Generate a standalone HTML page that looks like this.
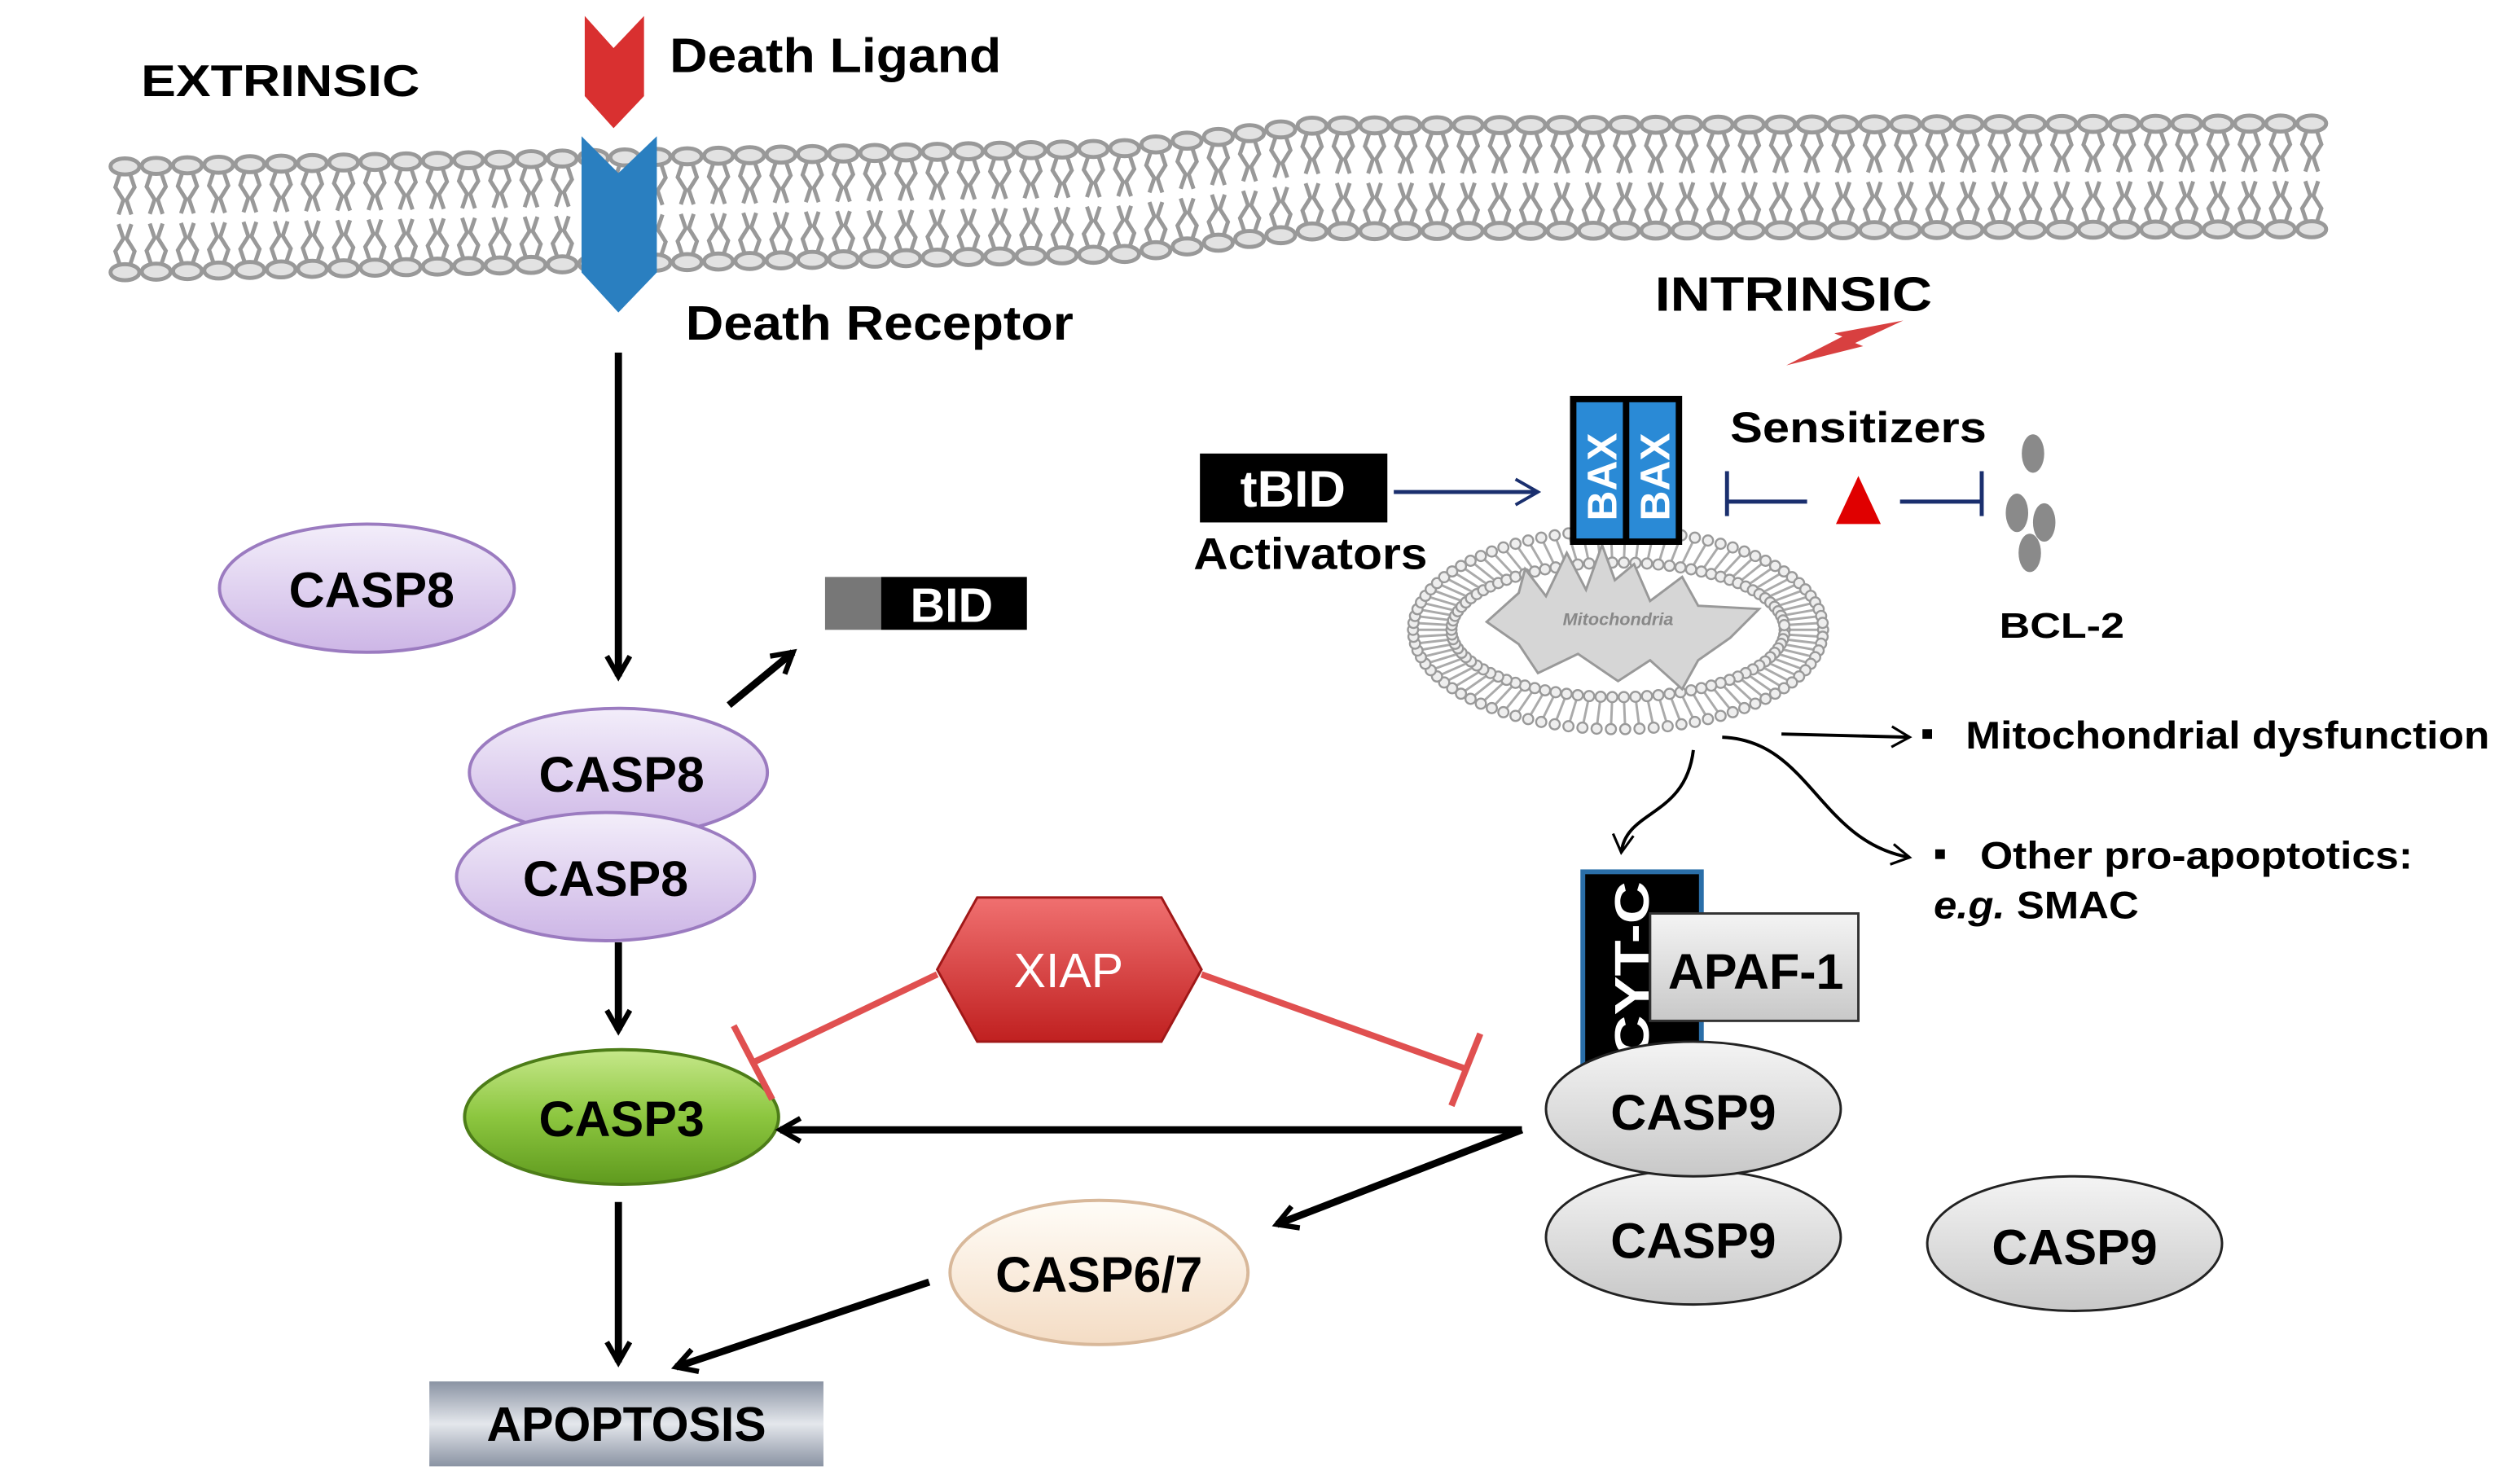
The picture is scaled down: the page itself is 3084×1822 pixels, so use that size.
<!DOCTYPE html>
<html><head><meta charset="utf-8"><style>
html,body{margin:0;padding:0;background:#fff;}
svg{display:block;}
text{font-family:"Liberation Sans",Arial,sans-serif;font-weight:bold;}
</style></head><body>
<svg id="s" width="3084" height="1822" viewBox="0 0 1568 926" preserveAspectRatio="none" xmlns="http://www.w3.org/2000/svg">
<defs>
<linearGradient id="lil" x1="0" y1="0" x2="0" y2="1"><stop offset="0" stop-color="#f3eefa"/><stop offset="1" stop-color="#cdb6e6"/></linearGradient>
<linearGradient id="grn" x1="0" y1="0" x2="0" y2="1"><stop offset="0" stop-color="#c6e88a"/><stop offset="0.5" stop-color="#8cc63f"/><stop offset="1" stop-color="#5f9a1e"/></linearGradient>
<linearGradient id="gry" x1="0" y1="0" x2="0" y2="1"><stop offset="0" stop-color="#f4f4f4"/><stop offset="1" stop-color="#c8c8c8"/></linearGradient>
<linearGradient id="crm" x1="0" y1="0" x2="0" y2="1"><stop offset="0" stop-color="#fffdf8"/><stop offset="1" stop-color="#f4dcc4"/></linearGradient>
<linearGradient id="red" x1="0" y1="0" x2="0" y2="1"><stop offset="0" stop-color="#f07070"/><stop offset="1" stop-color="#c02020"/></linearGradient>
<linearGradient id="apo" x1="0" y1="0" x2="0" y2="1"><stop offset="0" stop-color="#8a93a3"/><stop offset="0.5" stop-color="#e4e7ec"/><stop offset="1" stop-color="#8a93a3"/></linearGradient>
<marker id="ah" viewBox="0 0 10 10" refX="8" refY="5" markerWidth="4" markerHeight="4" orient="auto"><path d="M1,1 L8,5 L1,9" fill="none" stroke="#000" stroke-width="1.8"/></marker>
<marker id="ahs" viewBox="0 0 10 10" refX="8" refY="5" markerWidth="8" markerHeight="8" orient="auto"><path d="M1,1 L8,5 L1,9" fill="none" stroke="#000" stroke-width="1"/></marker>
<marker id="ahb" viewBox="0 0 10 10" refX="8" refY="5" markerWidth="8" markerHeight="8" orient="auto"><path d="M1,1 L8,5 L1,9" fill="none" stroke="#1a2f6e" stroke-width="1"/></marker>
</defs>
<g id="mem"></g>
<g id="mito"></g>
<polygon points="365,10 383,30 402,10 402,60 383,80 365,60" fill="#d93030"/>
<polygon points="363,85 386,108 410,85 410,170 386,195 363,170" fill="#2a7fc0"/>
<text x="88" y="60" font-size="28" textLength="174" lengthAdjust="spacingAndGlyphs">EXTRINSIC</text>
<text x="418" y="45" font-size="30" textLength="207" lengthAdjust="spacingAndGlyphs">Death Ligand</text>
<text x="428" y="212" font-size="30" textLength="242" lengthAdjust="spacingAndGlyphs">Death Receptor</text>
<line x1="386" y1="220" x2="386" y2="422" stroke="#000" stroke-width="4.5" marker-end="url(#ah)"/>
<ellipse cx="229" cy="367" rx="92" ry="40" fill="url(#lil)" stroke="#9b7bc0" stroke-width="2"/>
<text x="232" y="379" font-size="31" text-anchor="middle">CASP8</text>
<rect x="515" y="360" width="35" height="33" fill="#777"/><rect x="550" y="360" width="91" height="33" fill="#000"/>
<text x="594" y="388" font-size="30" fill="#fff" text-anchor="middle">BID</text>
<line x1="455" y1="440" x2="495" y2="407" stroke="#000" stroke-width="4.5" marker-end="url(#ah)"/>
<ellipse cx="386" cy="482" rx="93" ry="40" fill="url(#lil)" stroke="#9b7bc0" stroke-width="2"/>
<text x="388" y="494" font-size="31" text-anchor="middle">CASP8</text>
<ellipse cx="378" cy="547" rx="93" ry="40" fill="url(#lil)" stroke="#9b7bc0" stroke-width="2"/>
<text x="378" y="559" font-size="31" text-anchor="middle">CASP8</text>
<line x1="386" y1="588" x2="386" y2="643" stroke="#000" stroke-width="4.5" marker-end="url(#ah)"/>
<ellipse cx="388" cy="697" rx="98" ry="42" fill="url(#grn)" stroke="#4d7d18" stroke-width="2"/>
<text x="388" y="709" font-size="31" text-anchor="middle">CASP3</text>
<line x1="386" y1="750" x2="386" y2="850" stroke="#000" stroke-width="4.5" marker-end="url(#ah)"/>
<rect x="268" y="862" width="246" height="53" fill="url(#apo)"/>
<text x="391" y="899" font-size="30" text-anchor="middle">APOPTOSIS</text>
<ellipse cx="686" cy="794" rx="93" ry="45" fill="url(#crm)" stroke="#d8b89a" stroke-width="2"/>
<text x="686" y="806" font-size="31" text-anchor="middle">CASP6/7</text>
<line x1="580" y1="800" x2="422" y2="853" stroke="#000" stroke-width="4.5" marker-end="url(#ah)"/>
<line x1="950" y1="705" x2="487" y2="705" stroke="#000" stroke-width="4.5" marker-end="url(#ah)"/>
<line x1="950" y1="705" x2="797" y2="764" stroke="#000" stroke-width="4.5" marker-end="url(#ah)"/>
<line x1="585" y1="608" x2="470" y2="663" stroke="#e05050" stroke-width="4"/>
<line x1="458" y1="640" x2="482" y2="686" stroke="#e05050" stroke-width="4"/>
<line x1="750" y1="608" x2="915" y2="667" stroke="#e05050" stroke-width="4"/>
<line x1="924" y1="645" x2="906" y2="690" stroke="#e05050" stroke-width="4"/>
<polygon points="585,605 610,560 725,560 750,605 725,650 610,650" fill="url(#red)" stroke="#a01818" stroke-width="1.5"/>
<text x="667" y="616" font-size="30" fill="#fff" text-anchor="middle" style="font-weight:normal">XIAP</text>
<text x="1033" y="194" font-size="30" textLength="173" lengthAdjust="spacingAndGlyphs">INTRINSIC</text>
<polygon points="1115,228 1150,210 1145,208 1188,200 1158,214 1163,216" fill="#d84040"/>
<rect x="749" y="283" width="117" height="43" fill="#000"/>
<text x="807" y="316" font-size="32" fill="#fff" text-anchor="middle">tBID</text>
<text x="745" y="355" font-size="28" textLength="146" lengthAdjust="spacingAndGlyphs">Activators</text>
<line x1="870" y1="307" x2="960" y2="307" stroke="#1a2f6e" stroke-width="2.5" marker-end="url(#ahb)"/>
<text x="1080" y="276" font-size="27" textLength="160" lengthAdjust="spacingAndGlyphs">Sensitizers</text>
<line x1="1078" y1="294" x2="1078" y2="322" stroke="#1a2f6e" stroke-width="2.5"/>
<line x1="1078" y1="313" x2="1128" y2="313" stroke="#1a2f6e" stroke-width="2.5"/>
<polygon points="1146,327 1160,297 1174,327" fill="#e00000"/>
<line x1="1186" y1="313" x2="1237" y2="313" stroke="#1a2f6e" stroke-width="2.5"/>
<line x1="1237" y1="294" x2="1237" y2="322" stroke="#1a2f6e" stroke-width="2.5"/>
<ellipse cx="1269" cy="283" rx="7" ry="12" fill="#8a8a8a"/>
<ellipse cx="1259" cy="320" rx="7" ry="12" fill="#8a8a8a"/>
<ellipse cx="1276" cy="326" rx="7" ry="12" fill="#8a8a8a"/>
<ellipse cx="1267" cy="345" rx="7" ry="12" fill="#8a8a8a"/>
<text x="1248" y="398" font-size="22" textLength="78" lengthAdjust="spacingAndGlyphs">BCL-2</text>
<text x="1227" y="467" font-size="24" textLength="327" lengthAdjust="spacingAndGlyphs">Mitochondrial dysfunction</text>
<rect x="1200" y="455" width="6" height="6" fill="#000"/>
<line x1="1112" y1="458" x2="1192" y2="460" stroke="#000" stroke-width="2" marker-end="url(#ahs)"/>
<path d="M1075,460 C1130,462 1135,525 1192,535" fill="none" stroke="#000" stroke-width="2" marker-end="url(#ahs)"/>
<rect x="1208" y="530" width="6" height="6" fill="#000"/>
<text x="1236" y="542" font-size="24" textLength="270" lengthAdjust="spacingAndGlyphs">Other pro-apoptotics:</text>
<text x="1207" y="573" font-size="24" textLength="128" lengthAdjust="spacingAndGlyphs"><tspan font-style="italic">e.g.</tspan> SMAC</text>
<path d="M1057,468 C1052,510 1015,505 1012,532" fill="none" stroke="#000" stroke-width="2" marker-end="url(#ahs)"/>
<rect x="988" y="544" width="74" height="122" fill="#000" stroke="#2a6ea8" stroke-width="3"/>
<text transform="translate(1029,660) rotate(-90)" font-size="30" fill="#fff" textLength="110" lengthAdjust="spacingAndGlyphs">CYT-C</text>
<rect x="1030" y="570" width="130" height="67" fill="url(#gry)" stroke="#333" stroke-width="1.5"/>
<text x="1096" y="617" font-size="31" text-anchor="middle">APAF-1</text>
<ellipse cx="1057" cy="772" rx="92" ry="42" fill="url(#gry)" stroke="#222" stroke-width="1.5"/>
<text x="1057" y="785" font-size="31" text-anchor="middle">CASP9</text>
<ellipse cx="1057" cy="692" rx="92" ry="42" fill="url(#gry)" stroke="#222" stroke-width="1.5"/>
<text x="1057" y="705" font-size="31" text-anchor="middle">CASP9</text>
<ellipse cx="1295" cy="776" rx="92" ry="42" fill="url(#gry)" stroke="#222" stroke-width="1.5"/>
<text x="1295" y="789" font-size="31" text-anchor="middle">CASP9</text>
<rect x="980" y="247" width="70" height="93" fill="#000"/>
<rect x="984" y="251" width="29" height="85" fill="#2a8ad6"/>
<rect x="1017" y="251" width="29" height="85" fill="#2a8ad6"/>
<text transform="translate(1009,325) rotate(-90)" font-size="26" fill="#fff">BAX</text>
<text transform="translate(1042,325) rotate(-90)" font-size="26" fill="#fff">BAX</text>
</svg>
<script>
var NS="http://www.w3.org/2000/svg";
function el(p,t,a){var e=document.createElementNS(NS,t);for(var k in a)e.setAttribute(k,a[k]);p.appendChild(e);return e;}
var mem=document.getElementById("mem");
function cy(x){ if(x<700) return 137-(x-70)*0.018; if(x<820) return 125.7-(x-700)*0.12; return 111.3-(x-820)*0.002;}
for(var x=78;x<=1462;x+=19.5){
  var c=cy(x), t=c-33, b=c+33;
  var d="M"+(x-3)+","+(t+4)+" l-3,9 l5,8 l-3,9 M"+(x+3)+","+(t+4)+" l3,9 l-5,8 l3,9 M"+(x-3)+","+(b-4)+" l-3,-9 l5,-8 l-3,-9 M"+(x+3)+","+(b-4)+" l3,-9 l-5,-8 l3,-9";
  el(mem,"path",{d:d,fill:"none",stroke:"#999","stroke-width":2.5});
  el(mem,"ellipse",{cx:x,cy:t,rx:9,ry:5,fill:"#e2e2e2",stroke:"#999","stroke-width":2.5});
  el(mem,"ellipse",{cx:x,cy:b,rx:9,ry:5,fill:"#e2e2e2",stroke:"#999","stroke-width":2.5});
}
var mi=document.getElementById("mito");
var cx=1010,cyy=393;
for(var i=0;i<90;i++){
  var a=i/90*2*Math.PI, ca=Math.cos(a), sa=Math.sin(a);
  var r1x=128,r1y=62,r2x=104,r2y=42;
  var x1=cx+r1x*ca,y1=cyy+r1y*sa,x2=cx+r2x*ca,y2=cyy+r2y*sa;
  el(mi,"line",{x1:x1,y1:y1,x2:x2,y2:y2,stroke:"#aaa","stroke-width":1.5});
  el(mi,"circle",{cx:x1,cy:y1,r:3.2,fill:"#eee",stroke:"#999","stroke-width":1.2});
  el(mi,"circle",{cx:x2,cy:y2,r:3.2,fill:"#eee",stroke:"#999","stroke-width":1.2});
}
el(mi,"path",{d:"M928,388 L948,370 L952,355 L965,372 L978,345 L990,368 L1000,340 L1008,362 L1020,352 L1030,375 L1050,360 L1060,378 L1098,380 L1080,398 L1060,412 L1050,430 L1030,412 L1010,425 L985,408 L960,420 L948,402 Z",fill:"#d6d6d6",stroke:"#999","stroke-width":1.5});
var tt=el(mi,"text",{x:1010,y:390,"font-size":11,"text-anchor":"middle",fill:"#888","font-style":"italic"});tt.textContent="Mitochondria";
</script>
</body></html>
